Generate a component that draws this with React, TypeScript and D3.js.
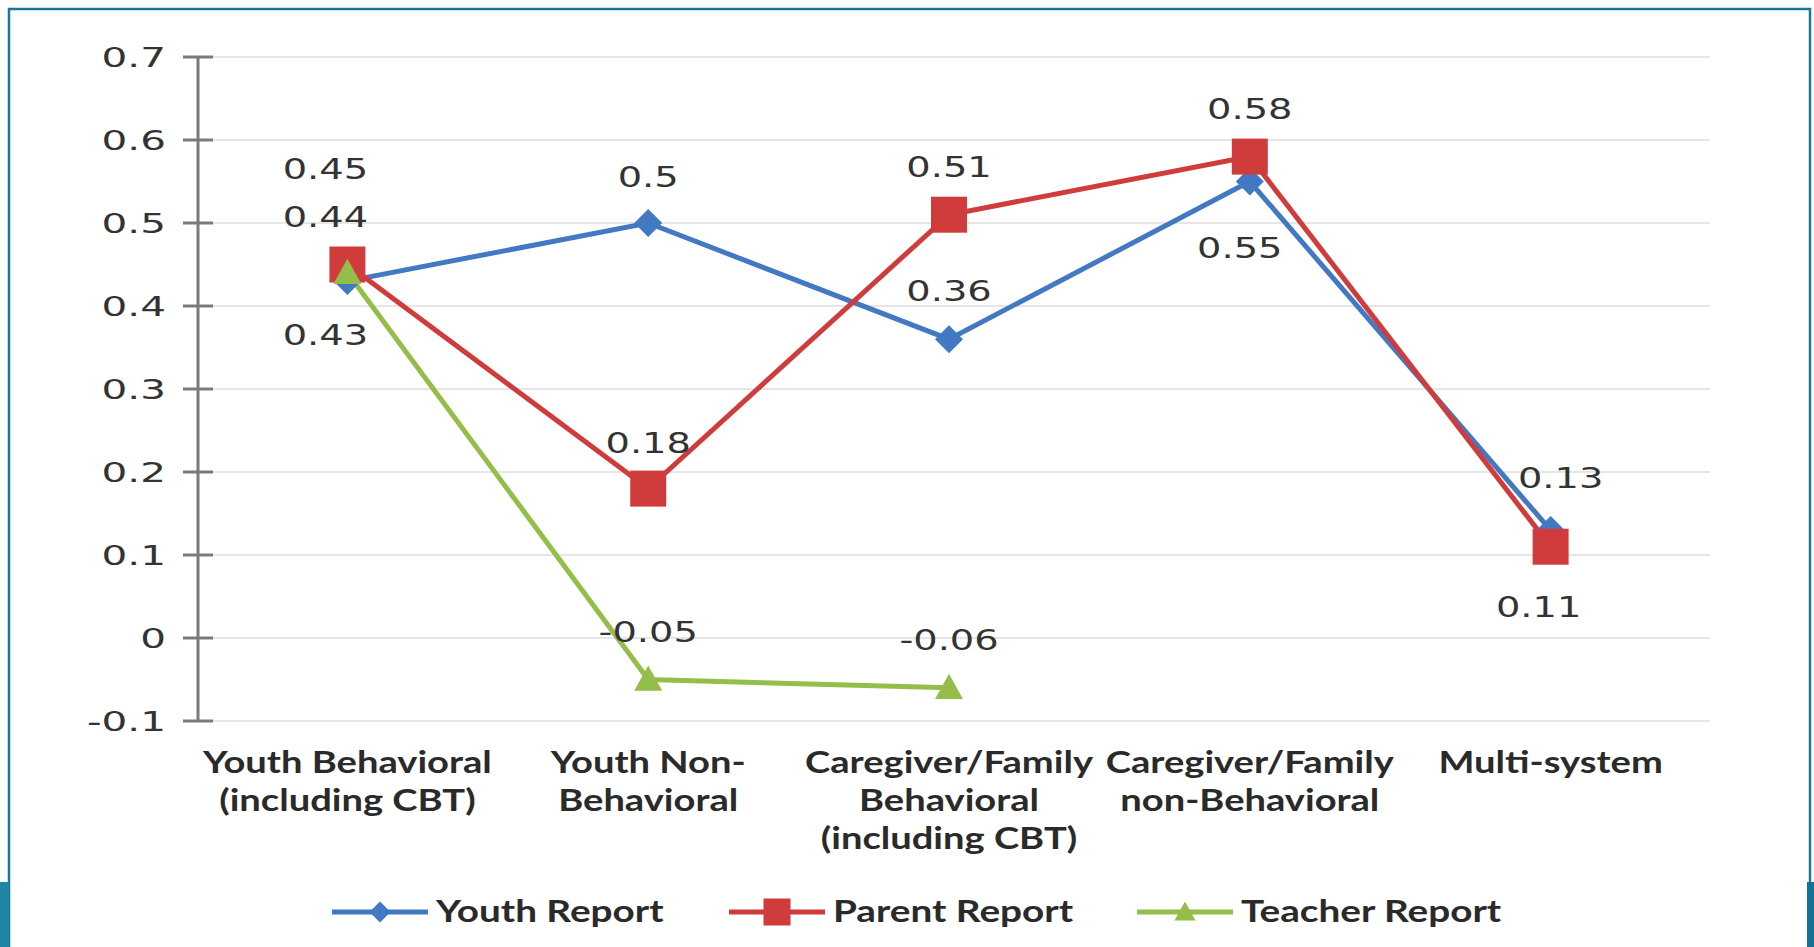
import React from "react";
import * as d3 from "d3";

const categories: string[][] = [
  ["Youth Behavioral", "(including CBT)"],
  ["Youth Non-", "Behavioral"],
  ["Caregiver/Family", "Behavioral", "(including CBT)"],
  ["Caregiver/Family", "non-Behavioral"],
  ["Multi-system"],
];
const youthReport: (number | null)[] = [0.43, 0.5, 0.36, 0.55, 0.13];
const parentReport: (number | null)[] = [0.45, 0.18, 0.51, 0.58, 0.11];
const teacherReport: (number | null)[] = [0.44, -0.05, -0.06, null, null];
const yTicks: number[] = [-0.1, 0, 0.1, 0.2, 0.3, 0.4, 0.5, 0.6, 0.7];
const seriesNames: string[] = ["Youth Report", "Parent Report", "Teacher Report"];

// label placement: dx, dy offsets (px) relative to point
const youthLabelOff = [[-22, 54], [0, -46], [0, -48], [-10, 66], [-25 + 35, -52]];
const parentLabelOff = [[-22, -96], [0, -46], [0, -48], [0, -48], [-12, 60]];
const teacherLabelOff = [[-22, -56], [0, -48], [0, -48]];

const W = 1814, H = 947;
const left = 198, right = 1710, top = 57, bottom = 721;

export default function App() {
  const x = d3.scaleBand<number>().domain(d3.range(categories.length)).range([197, 1701]);
  const y = d3.scaleLinear().domain([-0.1, 0.7]).range([bottom, top]);
  const cx = (i: number) => (x(i) as number) + x.bandwidth() / 2;

  const series = [
    { name: seriesNames[0], data: youthReport, color: "#4279c2", marker: "diamond", off: youthLabelOff },
    { name: seriesNames[1], data: parentReport, color: "#d03c3c", marker: "square", off: parentLabelOff },
    { name: seriesNames[2], data: teacherReport, color: "#95bd4a", marker: "triangle", off: teacherLabelOff },
  ];

  const line = d3
    .line<number | null>()
    .defined((d) => d !== null)
    .x((_, i) => cx(i))
    .y((d) => y(d as number));

  const marker = (type: string, px: number, py: number, color: string, s = 1) => {
    if (type === "square") {
      const h = 18 * s;
      return <rect x={px - h} y={py - h} width={2 * h} height={2 * h} fill={color} />;
    }
    if (type === "diamond") {
      const h = 14 * s;
      return <path d={`M${px},${py - h}L${px + h},${py}L${px},${py + h}L${px - h},${py}Z`} fill={color} />;
    }
    const h = 14 * s;
    return <path d={`M${px},${py - h}L${px + h},${py + h * 0.8}L${px - h},${py + h * 0.8}Z`} fill={color} />;
  };

  const stretchText = (tx: number, ty: number, txt: string, opts: any, sx = 1.2) => (
    <g transform={`translate(${tx},${ty}) scale(${sx},1)`}>
      <text x={0} y={0} {...opts}>{txt}</text>
    </g>
  );

  const legendX = [332, 729, 1137];

  return (
    <svg width={W} height={H} style={{ position: "absolute", left: 0, top: 0, background: "#fff" }}>
      <rect x={0} y={0} width={W} height={H} fill="#fff" />
      {/* frame */}
      <path d={`M9,${H}V9H1810V${H}`} fill="none" stroke="#1a7896" strokeWidth={2.5} />
      <rect x={0} y={882} width={9} height={H - 882} fill="#1f86a8" />
      <rect x={1807} y={882} width={7} height={H - 882} fill="#137296" />

      {/* gridlines */}
      {yTicks.map((t) => (
        <line key={"g" + t} x1={left} x2={right} y1={y(t)} y2={y(t)} stroke="#e6e6e6" strokeWidth={2} />
      ))}
      {/* y axis */}
      <line x1={left} x2={left} y1={y(0.7)} y2={y(-0.1)} stroke="#7a7a7a" strokeWidth={3} />
      {yTicks.map((t) => (
        <g key={"t" + t}>
          <line x1={left - 15} x2={left + 15} y1={y(t)} y2={y(t)} stroke="#7a7a7a" strokeWidth={3} />
          {stretchText(166, y(t) + 10, String(Math.round(t * 10) / 10), {
            fontFamily: "DejaVu Sans",
            fontSize: 27,
            fill: "#333",
            textAnchor: "end",
          }, 1.5)}
        </g>
      ))}

      {/* category labels */}
      {categories.map((lines, i) =>
        lines.map((l, j) => (
          <g key={"c" + i + j}>
            {stretchText(cx(i), 773 + j * 38, l, {
              fontFamily: "Lato",
              fontWeight: 700,
              fontSize: 30,
              fill: "#2a2a2a",
              textAnchor: "middle",
            }, 1.27)}
          </g>
        ))
      )}

      {/* lines */}
      {series.map((s) => (
        <path key={"l" + s.name} d={line(s.data) || ""} fill="none" stroke={s.color} strokeWidth={5} />
      ))}
      {/* markers */}
      {series.map((s) =>
        s.data.map((v, i) =>
          v === null ? null : <g key={"m" + s.name + i}>{marker(s.marker, cx(i), y(v), s.color)}</g>
        )
      )}
      {/* data labels */}
      {series.map((s) =>
        s.data.map((v, i) =>
          v === null ? null : (
            <g key={"d" + s.name + i}>
              {stretchText(cx(i) + s.off[i][0], y(v) + s.off[i][1] + 10, String(v), {
                fontFamily: "DejaVu Sans",
                fontSize: 28,
                fill: "#333",
                textAnchor: "middle",
              }, 1.37)}
            </g>
          )
        )
      )}

      {/* legend */}
      {series.map((s, i) => (
        <g key={"lg" + s.name}>
          <line x1={legendX[i]} x2={legendX[i] + 96} y1={912} y2={912} stroke={s.color} strokeWidth={5} />
          {marker(s.marker, legendX[i] + 48, 912, s.color, 0.75)}
          {stretchText(legendX[i] + 104, 922, s.name, {
            fontFamily: "Lato",
            fontWeight: 700,
            fontSize: 30,
            fill: "#2a2a2a",
            textAnchor: "start",
          }, 1.29)}
        </g>
      ))}
    </svg>
  );
}
